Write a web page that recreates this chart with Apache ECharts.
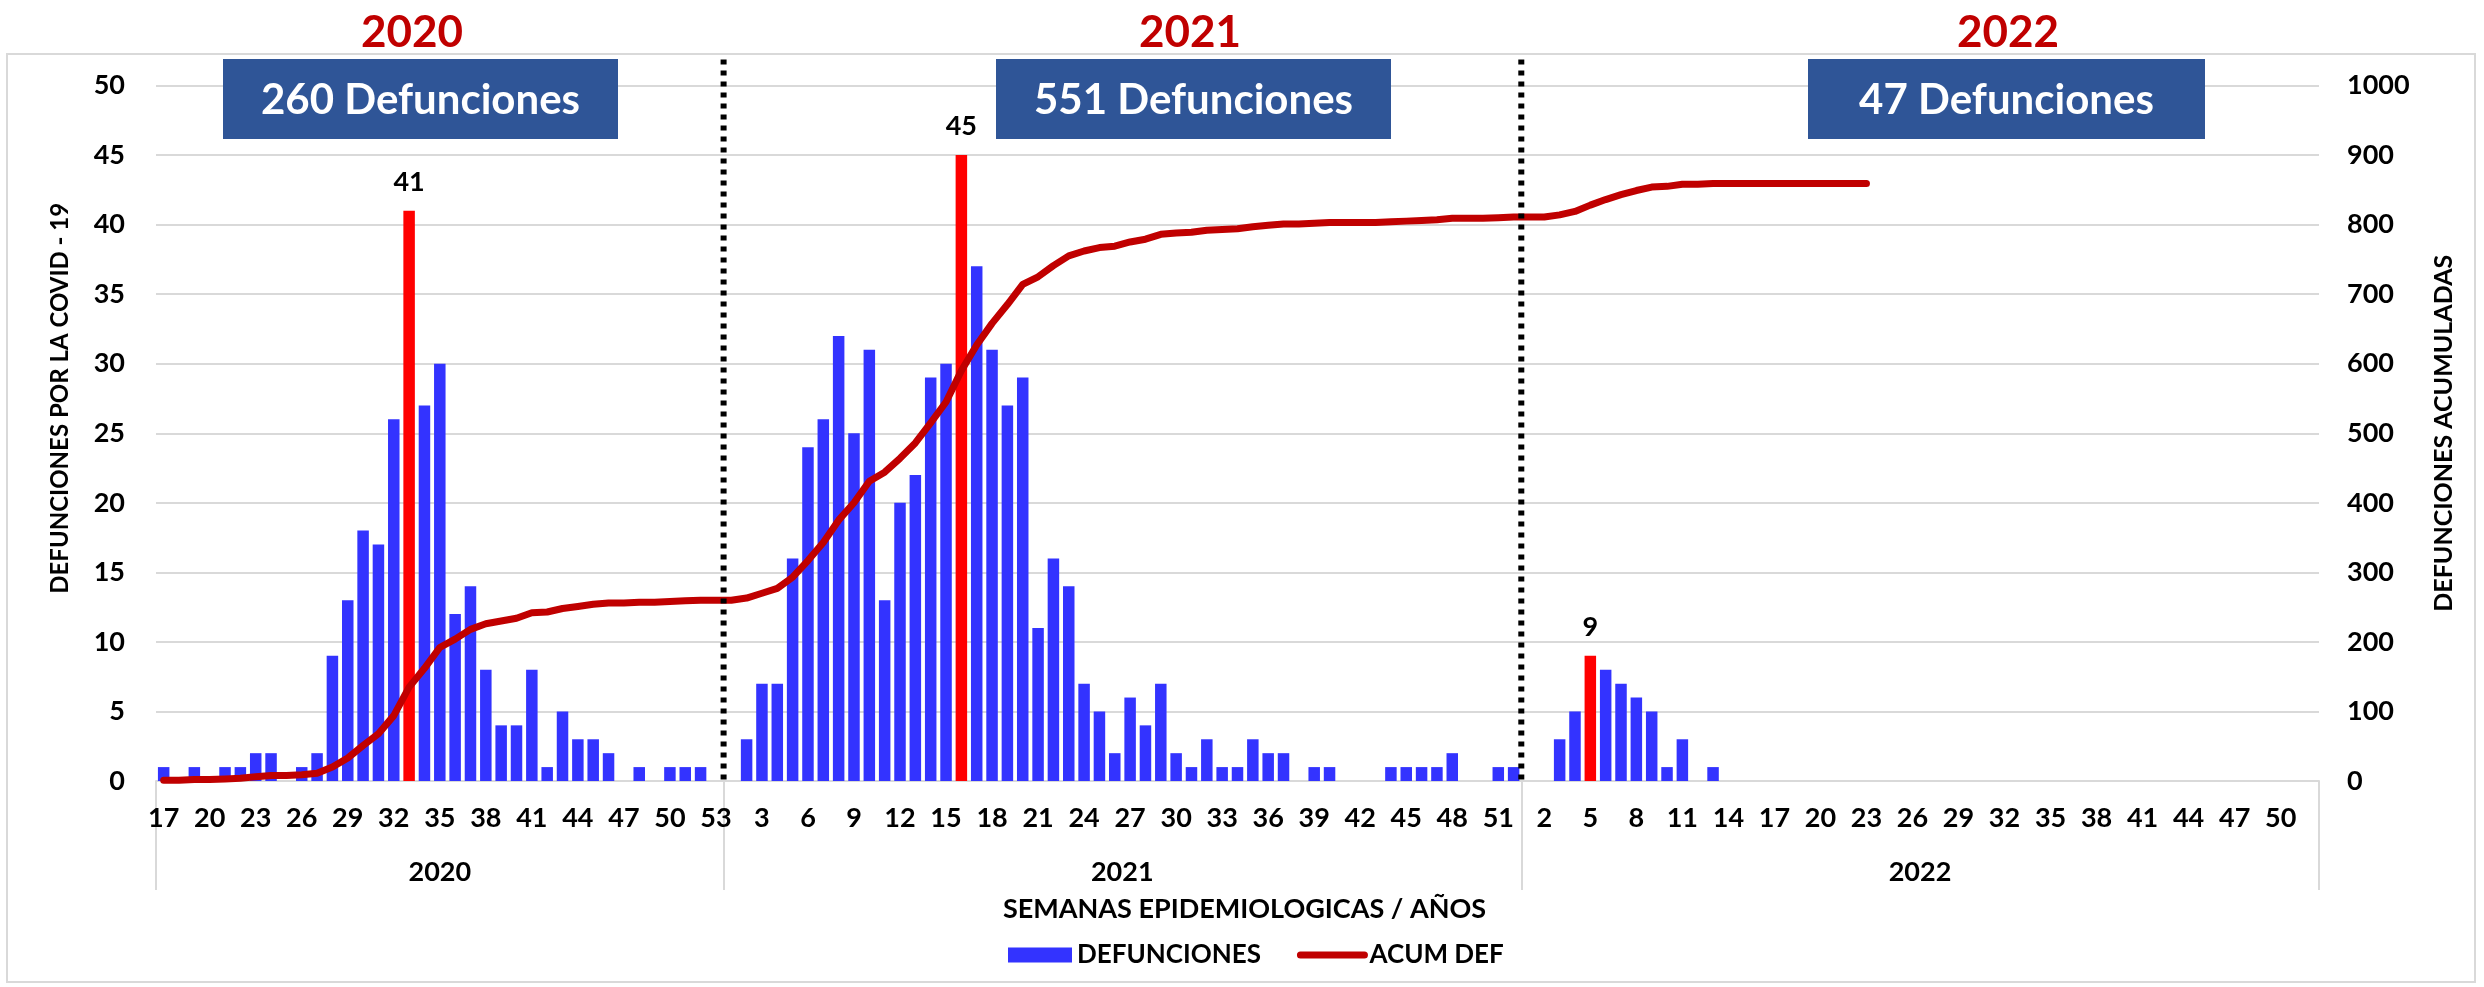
<!DOCTYPE html>
<html>
<head>
<meta charset="utf-8">
<script src="https://cdn.jsdelivr.net/npm/echarts@6/dist/echarts.min.js"></script>
<style>
html, body { margin: 0; padding: 0; background: #fff; }
#chart { width: 2484px; height: 987px; }
</style>
</head>
<body>
<div id="chart"></div>
<script>
// semanas epidemiologicas de cada año
const sem2020 = ['17','18','19','20','21','22','23','24','25','26','27','28','29','30','31','32','33','34','35','36','37','38','39','40','41','42','43','44','45','46','47','48','49','50','51','52','53'];
const sem2021 = ['1','2','3','4','5','6','7','8','9','10','11','12','13','14','15','16','17','18','19','20','21','22','23','24','25','26','27','28','29','30','31','32','33','34','35','36','37','38','39','40','41','42','43','44','45','46','47','48','49','50','51','52'];
const sem2022 = ['1','2','3','4','5','6','7','8','9','10','11','12','13','14','15','16','17','18','19','20','21','22','23','24','25','26','27','28','29','30','31','32','33','34','35','36','37','38','39','40','41','42','43','44','45','46','47','48','49','50','51','52'];
const anios = ['2020', '2021', '2022'];
const totales = ['260 Defunciones', '551 Defunciones', '47 Defunciones'];

// defunciones por semana
const def2020 = [1,0,1,0,1,1,2,2,0,1,2,9,13,18,17,26,41,27,30,12,14,8,4,4,8,1,5,3,3,2,0,1,0,1,1,1,0];
const def2021 = [0,3,7,7,16,24,26,32,25,31,13,20,22,29,30,45,37,31,27,29,11,16,14,7,5,2,6,4,7,2,1,3,1,1,3,2,2,0,1,1,0,0,0,1,1,1,1,2,0,0,1,1];
const def2022 = [0,0,3,5,9,8,7,6,5,1,3,0,1,0,0,0,0,0,0,0,0,0,0];

// defunciones acumuladas
const acum2020 = [1,1,2,2,3,4,6,8,8,9,11,20,33,51,68,94,135,162,192,204,218,226,230,234,242,243,248,251,254,256,256,257,257,258,259,260,260];
const acum2021 = [260,263,270,277,293,317,343,375,400,431,444,464,486,515,545,590,627,658,685,714,725,741,755,762,767,769,775,779,786,788,789,792,793,794,797,799,801,801,802,803,803,803,803,804,805,806,807,809,809,809,810,811];
const acum2022 = [811,811,814,819,828,836,843,849,854,855,858,858,859,859,859,859,859,859,859,859,859,859,859];

const FONT = 'Lato, "Open Sans", sans-serif';
const semanas = sem2020.concat(sem2021, sem2022);
const grupos = [sem2020, sem2021, sem2022];

// inicio de cada año en el eje y su centro
const inicios = [];
const centros = {};
let pos = 0;
const aniosCat = [];
grupos.forEach((g, k) => {
	inicios.push(pos);
	centros[pos + Math.floor((g.length - 1) / 2)] = (g.length - 1) % 2 === 1;
	g.forEach(() => aniosCat.push(anios[k]));
	pos += g.length;
});
const separadores = inicios.slice(1).map(i => [i - 1]);

// la semana con mas defunciones de cada año va en rojo
function barras(arr) {
	const max = Math.max(...arr);
	return arr.map(v => v === max
		? { value: v, itemStyle: { color: '#FF0000' }, label: { show: true } }
		: v);
}
const barData = barras(def2020).concat(barras(def2021), barras(def2022));
const acumData = acum2020.concat(acum2021, acum2022);

const txt = { color: '#000', fontFamily: FONT, fontWeight: 'bold' };

// cuadros y titulos de cada año
const cuadros = [
	{ x: 223, w: 395 },
	{ x: 996, w: 395 },
	{ x: 1808, w: 397 }
];
const titulosX = [412, 1190, 2008];

const graphic = [
	{ type: 'rect', z: -10, shape: { x: 7, y: 54, width: 2468, height: 928 },
		style: { fill: 'none', stroke: '#d9d9d9', lineWidth: 2 } }
];
cuadros.forEach((c, k) => {
	graphic.push({ type: 'rect', z: 10, shape: { x: c.x, y: 59, width: c.w, height: 80 },
		style: { fill: '#2F5597' } });
	graphic.push({ type: 'text', z: 11, x: c.x + c.w / 2, y: 100,
		style: { text: totales[k], fill: '#fff', fontSize: 42, fontWeight: 'bold', fontFamily: FONT,
			align: 'center', verticalAlign: 'middle' } });
	graphic.push({ type: 'text', z: 11, x: titulosX[k], y: 33,
		style: { text: anios[k], fill: '#C00000', fontSize: 44, fontWeight: 'bold', fontFamily: FONT,
			align: 'center', verticalAlign: 'middle',
			shadowColor: 'rgba(0,0,0,0.45)', shadowBlur: 3, shadowOffsetX: 2, shadowOffsetY: 3 } });
});

const chart = echarts.init(document.getElementById('chart'));
chart.setOption({
	animation: false,
	backgroundColor: '#fff',
	grid: { left: 156, right: 165, top: 85.5, bottom: 206, outerBoundsMode: 'none' },
	legend: {
		data: [
			{ name: 'DEFUNCIONES', icon: 'rect' },
			{ name: 'ACUM DEF', itemStyle: { color: 'rgba(0,0,0,0)', borderWidth: 0 },
				lineStyle: { width: 7, cap: 'round', color: '#C00000' } }
		],
		left: 1003, top: 937,
		itemWidth: 64, itemHeight: 15, itemGap: 36,
		textStyle: Object.assign({ fontSize: 26 }, txt)
	},
	xAxis: [
		{
			type: 'category', data: semanas, position: 'bottom',
			axisLine: { lineStyle: { color: '#d9d9d9', width: 2 } },
			axisTick: { show: false },
			axisLabel: Object.assign({ interval: 2, margin: 24, fontSize: 27, lineHeight: 27 }, txt),
			splitLine: { show: false }
		},
		{
			type: 'category', data: aniosCat, position: 'bottom',
			axisLine: { show: false },
			axisTick: { show: true, length: 109, interval: i => inicios.includes(i),
				lineStyle: { color: '#d9d9d9', width: 2 } },
			axisLabel: Object.assign({
				interval: i => i in centros, margin: 78, fontSize: 27, lineHeight: 27,
				formatter: (v, i) => centros[i] ? '{d|' + v + '}' : v,
				rich: { d: Object.assign({ fontSize: 27, lineHeight: 27, padding: [0, 0, 0, 15] }, txt) }
			}, txt),
			name: 'SEMANAS EPIDEMIOLOGICAS / AÑOS', nameLocation: 'middle', nameGap: 115,
			nameTextStyle: Object.assign({ fontSize: 27, lineHeight: 27, padding: [0, 0, 0, 14] }, txt)
		}
	],
	yAxis: [
		{
			type: 'value', min: 0, max: 50, interval: 5, position: 'left',
			axisLine: { show: false }, axisTick: { show: false },
			axisLabel: Object.assign({ margin: 31, fontSize: 27 }, txt),
			splitLine: { lineStyle: { color: '#d9d9d9', width: 2 } },
			name: 'DEFUNCIONES POR LA COVID - 19', nameLocation: 'middle', nameRotate: 90, nameGap: 84,
			nameTextStyle: Object.assign({ fontSize: 24, padding: [0, 0, 0, 70] }, txt)
		},
		{
			type: 'value', min: 0, max: 1000, interval: 100, position: 'right',
			axisLine: { show: false }, axisTick: { show: false },
			axisLabel: Object.assign({ margin: 28, fontSize: 27, formatter: v => String(v) }, txt),
			splitLine: { show: false },
			name: 'DEFUNCIONES ACUMULADAS', nameLocation: 'middle', nameRotate: 90, nameGap: 112,
			nameTextStyle: Object.assign({ fontSize: 25 }, txt)
		}
	],
	series: [
		{
			name: 'DEFUNCIONES', type: 'bar', data: barData, barWidth: 11.5,
			itemStyle: { color: '#3333FF' },
			label: Object.assign({ show: false, position: 'top', distance: 15, fontSize: 27 }, txt),
			z: 2
		},
		{
			name: 'ACUM DEF', type: 'line', yAxisIndex: 1, data: acumData, symbol: 'none',
			lineStyle: { color: '#C00000', width: 7, cap: 'round', join: 'round' },
			itemStyle: { color: '#C00000' },
			z: 3
		},
		{
			// lineas punteadas entre años
			type: 'custom', silent: true, clip: false, z: 4,
			data: separadores,
			renderItem: function (params, api) {
				const p = api.coord([api.value(0), 0]);
				const bw = api.size([1, 0])[0];
				const x = p[0] + bw / 2;
				return {
					type: 'line',
					shape: { x1: x, y1: params.coordSys.y - 26, x2: x, y2: p[1] },
					style: { stroke: '#000', lineWidth: 6, lineDash: [5, 6] }
				};
			}
		}
	],
	graphic: graphic
});
</script>
</body>
</html>
